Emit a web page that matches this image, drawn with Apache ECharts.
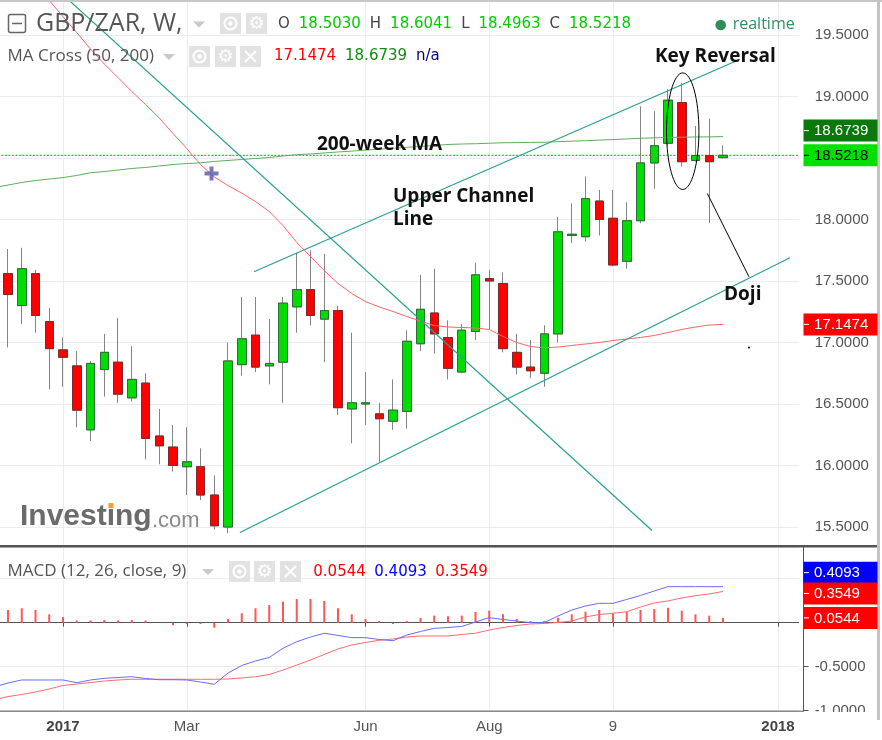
<!DOCTYPE html>
<html>
<head>
<meta charset="utf-8">
<title>GBP/ZAR weekly</title>
<script src="https://cdn.jsdelivr.net/npm/echarts@6.0.0/dist/echarts.min.js"></script>
<style>
  html, body { margin: 0; padding: 0; background: #fff; }
  #chart { width: 882px; height: 740px; }
</style>
</head>
<body>
<div id="chart"></div>
<script>
// weekly GBP/ZAR candles, bar 1 = 5 Dec 2016 ... bar 53 = 4 Dec 2017
const opens  = [17.56, 17.30, 17.56, 17.17, 16.94, 16.81, 16.29, 16.78, 16.84, 16.55, 16.67, 16.24, 16.15, 15.99, 15.99, 15.76, 15.50, 16.82, 17.06, 16.81, 16.84, 17.29, 17.43, 17.19, 17.26, 16.46, 16.50, 16.42, 16.36, 16.44, 16.99, 17.24, 17.04, 16.76, 17.09, 17.52, 17.48, 16.92, 16.80, 16.75, 17.07, 17.87, 17.86, 18.15, 18.01, 17.66, 17.99, 18.46, 18.62, 18.95, 18.48, 18.52, 18.5030];
const closes = [17.39, 17.60, 17.22, 16.95, 16.88, 16.45, 16.83, 16.92, 16.58, 16.70, 16.22, 16.16, 16.00, 16.03, 15.76, 15.51, 16.85, 17.03, 16.80, 16.83, 17.32, 17.43, 17.22, 17.26, 16.47, 16.51, 16.51, 16.38, 16.45, 17.01, 17.27, 17.07, 16.79, 17.10, 17.55, 17.50, 16.95, 16.80, 16.77, 17.07, 17.90, 17.88, 18.17, 18.00, 17.63, 17.99, 18.46, 18.60, 18.97, 18.47, 18.52, 18.47, 18.5218];
const lows   = [16.96, 17.15, 17.08, 16.62, 16.64, 16.31, 16.20, 16.56, 16.51, 16.52, 16.05, 16.01, 15.95, 15.76, 15.72, 15.48, 15.45, 16.73, 16.76, 16.66, 16.51, 17.08, 17.14, 16.84, 16.41, 16.18, 16.33, 16.03, 16.29, 16.30, 16.93, 16.91, 16.70, 16.75, 17.02, 17.11, 16.92, 16.74, 16.71, 16.64, 17.00, 17.81, 17.82, 17.87, 17.62, 17.60, 17.97, 18.25, 18.60, 18.43, 18.47, 17.97, 18.4963];
const highs  = [17.76, 17.77, 17.59, 17.28, 17.04, 16.93, 16.85, 17.07, 17.20, 16.97, 16.75, 16.46, 16.33, 16.31, 16.14, 15.92, 17.00, 17.37, 17.37, 17.19, 17.37, 17.73, 17.75, 17.72, 17.30, 17.08, 16.76, 16.51, 16.70, 17.10, 17.55, 17.60, 17.18, 17.15, 17.65, 17.59, 17.57, 17.07, 17.02, 17.14, 18.02, 18.13, 18.35, 18.24, 18.24, 18.14, 18.92, 18.88, 19.06, 19.11, 18.76, 18.82, 18.6041];

// moving averages and MACD start one week earlier (week 0) so they run off the left edge
const ma50  = [20.29, 20.16, 20.04, 19.91, 19.78, 19.65, 19.52, 19.386, 19.264, 19.154, 19.041, 18.935, 18.825, 18.699, 18.577, 18.447, 18.346, 18.276, 18.215, 18.146, 18.065, 17.951, 17.813, 17.699, 17.585, 17.480, 17.398, 17.333, 17.289, 17.252, 17.211, 17.175, 17.138, 17.126, 17.122, 17.118, 17.106, 17.049, 17.0, 16.967, 16.957, 16.963, 16.976, 16.988, 17.0, 17.016, 17.028, 17.041, 17.057, 17.081, 17.106, 17.126, 17.142, 17.1474];
const ma200 = [18.260, 18.280, 18.301, 18.317, 18.329, 18.341, 18.358, 18.380, 18.390, 18.402, 18.415, 18.423, 18.435, 18.447, 18.455, 18.461, 18.472, 18.480, 18.488, 18.496, 18.504, 18.516, 18.527, 18.533, 18.541, 18.549, 18.556, 18.564, 18.572, 18.579, 18.587, 18.594, 18.602, 18.610, 18.614, 18.616, 18.620, 18.624, 18.625, 18.627, 18.628, 18.633, 18.637, 18.641, 18.645, 18.650, 18.655, 18.660, 18.664, 18.667, 18.669, 18.671, 18.672, 18.6739];
const macdLine   = [-0.731, -0.685, -0.651, -0.651, -0.651, -0.651, -0.682, -0.651, -0.632, -0.623, -0.614, -0.634, -0.648, -0.648, -0.651, -0.674, -0.700, -0.572, -0.486, -0.435, -0.395, -0.291, -0.216, -0.163, -0.120, -0.145, -0.170, -0.170, -0.191, -0.205, -0.140, -0.100, -0.064, -0.055, -0.043, 0.008, 0.057, 0.036, 0.019, 0.000, 0.000, 0.076, 0.144, 0.190, 0.220, 0.220, 0.264, 0.309, 0.360, 0.4093, 0.4093, 0.4093, 0.4093, 0.4093];
const signalLine = [-0.876, -0.839, -0.816, -0.788, -0.753, -0.714, -0.697, -0.680, -0.663, -0.651, -0.643, -0.643, -0.643, -0.643, -0.643, -0.643, -0.643, -0.640, -0.628, -0.614, -0.589, -0.538, -0.481, -0.424, -0.361, -0.299, -0.253, -0.225, -0.200, -0.185, -0.163, -0.151, -0.151, -0.151, -0.134, -0.120, -0.083, -0.055, -0.032, -0.015, -0.009, 0.002, 0.019, 0.065, 0.093, 0.107, 0.125, 0.178, 0.224, 0.247, 0.281, 0.307, 0.326, 0.3549];
// histogram for bars 1..53
const histogram  = [0.144, 0.164, 0.144, 0.095, 0.065, 0.025, 0.025, 0.031, 0.025, 0.031, 0.025, 0, -0.03, -0.015, -0.015, -0.057, 0.042, 0.107, 0.164, 0.201, 0.239, 0.269, 0.269, 0.247, 0.164, 0.095, 0.042, 0.02, -0.015, 0.02, 0.053, 0.080, 0.073, 0.080, 0.122, 0.136, 0.095, 0.042, 0.02, 0.02, 0.057, 0.095, 0.125, 0.144, 0.107, 0.125, 0.144, 0.156, 0.170, 0.136, 0.095, 0.080, 0.0544];

// time axis labels (week number -> text)
const tickIndex = [5, 14, 27, 36, 45, 57];
const tickText  = ['2017', 'Mar', 'Jun', 'Aug', '9', '2018'];

// hand drawn lines, [week, price]
const downTrend    = [[3.0, 20.03], [47.84, 15.472]];
const upperChannel = [[18.89, 17.575], [54.24, 19.303]];
const lowerChannel = [[17.87, 15.455], [57.87, 17.689]];
const crossPoint   = [15.8, 18.374];

const NWEEKS = 59;
const weeks = [];
const firstWeek = Date.UTC(2016, 10, 28);
for (let i = 0; i < NWEEKS; i++) {
  weeks.push(new Date(firstWeek + i * 7 * 864e5).toISOString().slice(0, 10));
}

const fullCandles = weeks.map((w, i) =>
  i >= 1 && i <= opens.length ? [opens[i - 1], closes[i - 1], lows[i - 1], highs[i - 1]] : '-');
// bodies drawn again on top so they get a dark outline while wicks stay grey
const bodyCandles = weeks.map((w, i) => {
  if (i < 1 || i > opens.length) return '-';
  const o = opens[i - 1], c = closes[i - 1];
  return [o, c, Math.min(o, c), Math.max(o, c)];
});
const histData = ['-'].concat(histogram);
const lastClose = closes[closes.length - 1];

const showTick = (i) => tickIndex.indexOf(i) >= 0;

const chart = echarts.init(document.getElementById('chart'));

const gridLeft = -12.625;   // week 1 sits at x = 8
const gridWidth = 811.25;   // 13.75px per week

const option = {
  animation: false,
  textStyle: { fontFamily: 'Liberation Sans' },
  grid: [
    { left: gridLeft, width: gridWidth, top: 0, height: 545, outerBoundsMode: 'none', containLabel: false },
    { left: gridLeft, width: gridWidth, top: 547, height: 163.7, outerBoundsMode: 'none', containLabel: false }
  ],
  xAxis: [
    {
      type: 'category', gridIndex: 0, data: weeks, boundaryGap: true,
      axisLine: { show: false }, axisTick: { show: false }, axisLabel: { show: false },
      splitLine: { show: true, interval: showTick, alignWithLabel: true, lineStyle: { color: '#ececec' } }
    },
    { type: 'value', gridIndex: 0, min: -0.5, max: NWEEKS - 0.5, show: false },
    {
      type: 'category', gridIndex: 1, data: weeks, boundaryGap: true,
      axisLine: { show: true, lineStyle: { color: '#555' } },
      axisTick: { show: true, interval: showTick, alignWithLabel: true, length: 4, lineStyle: { color: '#555' } },
      axisLabel: {
        interval: showTick, margin: 9, fontSize: 15, color: '#555', fontFamily: 'Liberation Sans',
        formatter: (v, i) => {
          const j = tickIndex.indexOf(i);
          if (j < 0) return '';
          const t = tickText[j];
          return /^\d{4}$/.test(t) ? '{y|' + t + '}' : t;
        },
        rich: { y: { fontWeight: 'bold', fontSize: 15, color: '#444', fontFamily: 'Liberation Sans' } }
      },
      splitLine: { show: true, interval: showTick, alignWithLabel: true, lineStyle: { color: '#ececec' } }
    }
  ],
  yAxis: [
    {
      type: 'value', gridIndex: 0, position: 'right', offset: 5,
      min: 15.3537, max: 19.7846, minInterval: 0.5, maxInterval: 0.5, splitNumber: 9,
      axisLine: { show: true, lineStyle: { color: '#555' } },
      axisTick: { show: true, length: 5, lineStyle: { color: '#555' } },
      axisLabel: { formatter: v => v.toFixed(4), color: '#555', fontSize: 15, margin: 11,
                   fontFamily: 'Liberation Sans', showMinLabel: false, showMaxLabel: false },
      splitLine: { lineStyle: { color: '#ececec' } }
    },
    {
      type: 'value', gridIndex: 1, position: 'right', offset: 5,
      min: -1, max: 0.86, minInterval: 0.5, maxInterval: 0.5,
      axisLine: { show: true, lineStyle: { color: '#555' } },
      axisTick: { show: true, length: 5, lineStyle: { color: '#555' } },
      axisLabel: { formatter: v => v.toFixed(4), color: '#555', fontSize: 15, margin: 11,
                   fontFamily: 'Liberation Sans', showMaxLabel: false },
      splitLine: { lineStyle: { color: '#ececec' } }
    }
  ],
  series: [
    {
      name: 'last price', type: 'line', xAxisIndex: 1, yAxisIndex: 0, z: 1,
      data: [[-0.5, lastClose], [NWEEKS - 0.5, lastClose]],
      symbol: 'none', silent: true, lineStyle: { color: '#11dd11', type: [2, 1.5], width: 1.3 }
    },
    {
      name: 'wicks', type: 'candlestick', xAxisIndex: 0, yAxisIndex: 0, data: fullCandles,
      barWidth: 9, silent: true, z: 2,
      itemStyle: { color: '#00dd00', color0: '#ff0000', borderColor: '#858585', borderColor0: '#858585', borderWidth: 1 }
    },
    {
      name: 'bodies', type: 'candlestick', xAxisIndex: 0, yAxisIndex: 0, data: bodyCandles,
      barWidth: 9, silent: true, z: 3,
      itemStyle: { color: '#00dd00', color0: '#ff0000', borderColor: '#2f6a3a', borderColor0: '#7a2b2b', borderWidth: 1 }
    },
    {
      name: 'MA 50', type: 'line', xAxisIndex: 0, yAxisIndex: 0, data: ma50, z: 4,
      symbol: 'none', silent: true, lineStyle: { color: '#ff6464', width: 1 }
    },
    {
      name: 'MA 200', type: 'line', xAxisIndex: 0, yAxisIndex: 0, data: ma200, z: 4,
      symbol: 'none', silent: true, lineStyle: { color: '#5fae5f', width: 1 }
    },
    {
      name: 'down trend', type: 'line', xAxisIndex: 1, yAxisIndex: 0, data: downTrend, z: 5,
      symbol: 'none', silent: true, lineStyle: { color: '#28a090', width: 1.2 }
    },
    {
      name: 'upper channel', type: 'line', xAxisIndex: 1, yAxisIndex: 0, data: upperChannel, z: 5,
      symbol: 'none', silent: true, lineStyle: { color: '#28a090', width: 1.2 }
    },
    {
      name: 'lower channel', type: 'line', xAxisIndex: 1, yAxisIndex: 0, data: lowerChannel, z: 5,
      symbol: 'none', silent: true, lineStyle: { color: '#28a090', width: 1.2 }
    },
    {
      name: 'cross', type: 'scatter', xAxisIndex: 1, yAxisIndex: 0, data: [crossPoint], z: 6,
      symbol: 'path://M5,0H9V5H14V9H9V14H5V9H0V5H5Z', symbolSize: 14, silent: true,
      itemStyle: { color: '#5757a8' }
    },
    {
      name: 'histogram', type: 'bar', xAxisIndex: 2, yAxisIndex: 1, data: histData,
      barWidth: 2, silent: true, itemStyle: { color: '#ff5555' }
    },
    {
      name: 'signal', type: 'line', xAxisIndex: 2, yAxisIndex: 1, data: signalLine,
      symbol: 'none', silent: true, lineStyle: { color: '#ff6a6a', width: 1 }
    },
    {
      name: 'MACD', type: 'line', xAxisIndex: 2, yAxisIndex: 1, data: macdLine,
      symbol: 'none', silent: true, lineStyle: { color: '#6b6bff', width: 1 }
    }
  ]
};

chart.setOption(option);

// --- header, value tags and hand drawn notes ---
const measure = document.createElement('canvas').getContext('2d');
function textW(str, font) { measure.font = font; return measure.measureText(str).width; }

function txt(x, y, s, font, fill, extra) {
  return Object.assign({ type: 'text', x: x, y: y, z: 100,
    style: { text: s, font: font, fill: fill, verticalAlign: 'middle' } }, extra || {});
}

function iconBox(x, y, kind) {
  const s = 21;
  const kids = [{ type: 'rect', shape: { x: 0, y: 0, width: s, height: s }, style: { fill: '#e2e2e2' } }];
  if (kind === 'eye') {
    kids.push({ type: 'circle', shape: { cx: s / 2, cy: s / 2, r: 6 }, style: { fill: 'none', stroke: '#fff', lineWidth: 2 } });
    kids.push({ type: 'circle', shape: { cx: s / 2, cy: s / 2, r: 2.2 }, style: { fill: '#fff' } });
  } else if (kind === 'gear') {
    kids.push({ type: 'text', style: { text: '\u2699', x: s / 2, y: s / 2 + 1, align: 'center', verticalAlign: 'middle', font: '18px DejaVu Sans', fill: '#fff' } });
  } else {
    kids.push({ type: 'line', shape: { x1: 5, y1: 5, x2: 16, y2: 16 }, style: { stroke: '#fff', lineWidth: 2 } });
    kids.push({ type: 'line', shape: { x1: 16, y1: 5, x2: 5, y2: 16 }, style: { stroke: '#fff', lineWidth: 2 } });
  }
  return { type: 'group', x: x, y: y, z: 100, children: kids };
}

function caret(x, y) {
  return { type: 'polygon', z: 100, shape: { points: [[x, y], [x + 12, y], [x + 6, y + 6]] }, style: { fill: '#c8c8c8' } };
}

function tokens(x, y, parts, font, gap) {
  const out = [];
  parts.forEach(p => {
    out.push(txt(x, y, p[0], font, p[1]));
    x += textW(p[0], font) + gap;
  });
  return out;
}

function drawOverlay() {
  const pt = (k, p) => chart.convertToPixel({ xAxisIndex: 1, yAxisIndex: 0 }, [k, p]);
  const yMain = v => chart.convertToPixel({ yAxisIndex: 0 }, v);
  const yMacd = v => chart.convertToPixel({ yAxisIndex: 1 }, v);
  const g = [];
  const valFont = '15px DejaVu Sans';
  const nameFont = '17px Open Sans';
  const noteFont = 'bold 19px Open Sans';

  // frame
  g.push({ type: 'rect', z: 90, shape: { x: 0, y: 0, width: 882, height: 2 }, style: { fill: '#c8c8c8' } });
  g.push({ type: 'rect', z: 90, shape: { x: 0, y: 545, width: 880, height: 2.5 }, style: { fill: '#555' } });
  g.push({ type: 'rect', z: 90, shape: { x: 877, y: 0, width: 3, height: 720 }, style: { fill: '#c4c4c4' } });

  // title row
  g.push({ type: 'rect', z: 100, shape: { x: 8.5, y: 14.5, width: 17, height: 18, r: 2 }, style: { fill: 'none', stroke: '#666', lineWidth: 1.5 } });
  g.push({ type: 'line', z: 100, shape: { x1: 12, y1: 23.5, x2: 22, y2: 23.5 }, style: { stroke: '#666', lineWidth: 1.5 } });
  g.push(txt(36, 24, 'GBP/ZAR, W,', '25px Open Sans', '#555'));
  g.push(caret(193, 21.5));
  g.push(iconBox(220, 13, 'eye'), iconBox(246, 13, 'gear'));
  const ohlc = [['O', '#444'], ['18.5030', '#00cc00'], ['H', '#444'], ['18.6041', '#00cc00'],
                ['L', '#444'], ['18.4963', '#00cc00'], ['C', '#444'], ['18.5218', '#00cc00']];
  tokens(278, 24.5, ohlc, valFont, 9).forEach(e => g.push(e));
  g.push({ type: 'circle', z: 100, shape: { cx: 720.7, cy: 25, r: 5.3 }, style: { fill: '#2f8f5b' } });
  g.push(txt(732.7, 24.3, 'realtime', '16px Open Sans', '#2f8f62'));

  // MA row
  g.push(txt(7.5, 56, 'MA Cross (50, 200)', nameFont, '#555'));
  g.push(caret(163, 54));
  g.push(iconBox(189, 46, 'eye'), iconBox(215, 46, 'gear'), iconBox(240, 46, 'close'));
  tokens(274, 56.5, [['17.1474', '#ff0000'], ['18.6739', '#138a13'], ['n/a', '#00008b']], valFont, 9).forEach(e => g.push(e));

  // MACD row
  g.push(txt(7.5, 571.5, 'MACD (12, 26, close, 9)', nameFont, '#555'));
  g.push(caret(202, 569));
  g.push(iconBox(229, 561, 'eye'), iconBox(254, 561, 'gear'), iconBox(280, 561, 'close'));
  tokens(313.3, 572, [['0.0544', '#ff0000'], ['0.4093', '#0000ff'], ['0.3549', '#ff0000']], valFont, 8.5).forEach(e => g.push(e));

  // watermark
  g.push(txt(20, 517, 'Investing', 'bold 30px Liberation Sans', '#6b6b6b'));
  g.push(txt(152, 521, '.com', '22px Liberation Sans', '#8a8a8a'));
  g.push({ type: 'rect', z: 101, shape: { x: 108.5, y: 503, width: 5, height: 5 }, style: { fill: '#f0a030' } });

  // notes
  g.push(txt(655, 57, 'Key Reversal', noteFont, '#111'));
  g.push(txt(317, 145, '200-week MA', noteFont, '#111'));
  g.push(txt(393, 197, 'Upper Channel', noteFont, '#111'));
  g.push(txt(393, 220, 'Line', noteFont, '#111'));
  g.push(txt(724, 295, 'Doji', noteFont, '#111'));
  const ec = pt(50.07, 18.718);
  g.push({ type: 'ellipse', z: 99, shape: { cx: ec[0], cy: ec[1], rx: 16.2, ry: 58.3 }, style: { fill: 'none', stroke: '#000', lineWidth: 1 } });
  const d1 = pt(51.86, 18.211), d2 = pt(54.89, 17.534), dot = pt(54.89, 16.959);
  g.push({ type: 'line', z: 99, shape: { x1: d1[0], y1: d1[1], x2: d2[0], y2: d2[1] }, style: { stroke: '#000', lineWidth: 1 } });
  g.push({ type: 'circle', z: 99, shape: { cx: dot[0], cy: dot[1], r: 1 }, style: { fill: '#000' } });

  // value tags on the right scale
  const tags = [
    [yMain(18.6739) - 6, '18.6739', '#0b780b', '#fff'],
    [yMain(18.5218), '18.5218', '#00e000', '#000'],
    [yMain(17.1474), '17.1474', '#ff0000', '#fff'],
    [yMacd(0.4093) - 14, '0.4093', '#0000ff', '#fff'],
    [yMacd(0.3549) + 2, '0.3549', '#ff0000', '#fff'],
    [yMacd(0.0544), '0.0544', '#ff0000', '#fff']
  ];
  tags.forEach(t => {
    g.push({ type: 'rect', z: 110, shape: { x: 803.5, y: t[0] - 11, width: 74, height: 22 }, style: { fill: t[2] } });
    g.push({ type: 'line', z: 111, shape: { x1: 804, y1: t[0], x2: 809, y2: t[0] }, style: { stroke: t[3], lineWidth: 1 } });
    g.push(txt(814, t[0] + 0.5, t[1], '15px Liberation Sans', t[3], { z: 111 }));
  });

  // bottom scale strip cuts the lowest MACD label
  g.push({ type: 'rect', z: 105, shape: { x: 806, y: 712, width: 71, height: 28 }, style: { fill: '#fff' } });
  g.push({ type: 'line', z: 106, shape: { x1: 0, y1: 711.2, x2: 804, y2: 711.2 }, style: { stroke: '#555', lineWidth: 1 } });

  chart.setOption({ graphic: g });
}

drawOverlay();
</script>
</body>
</html>
